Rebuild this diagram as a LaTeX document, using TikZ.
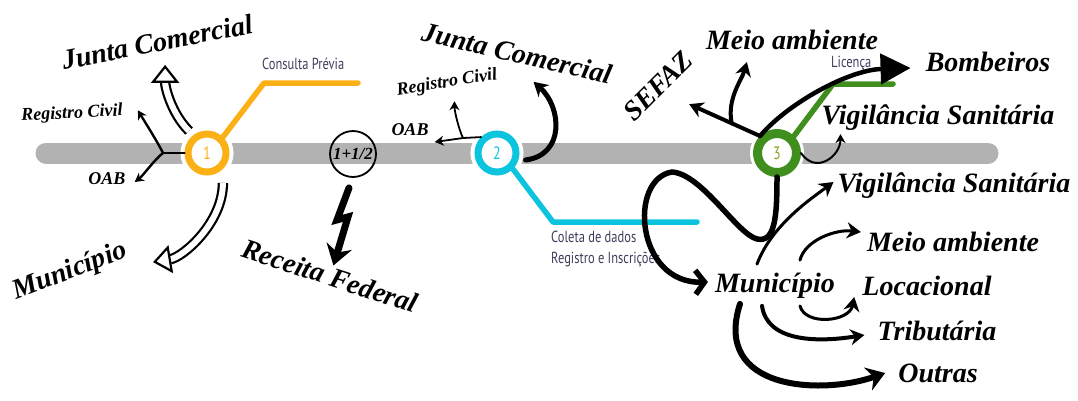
\documentclass[tikz,border=0pt]{standalone}
\usepackage{fontspec}
\newfontfamily\notefont[FakeStretch=0.78]{PT Sans}
\newfontfamily\handfont{Liberation Serif}
\usetikzlibrary{arrows.meta,positioning,calc}
\definecolor{amber}{HTML}{FBB016}
\definecolor{aqua}{HTML}{0CC4DE}
\definecolor{leaf}{HTML}{3F8E1E}
\definecolor{railgray}{HTML}{B2B2B2}
\definecolor{notegray}{HTML}{3E3E5C}
\tikzset{rail/.style={draw=railgray,line width=21pt,line cap=round}}
\tikzset{stop/.style={circle,draw,fill=white,line width=7pt,minimum size=38pt,inner sep=0pt,font=\notefont\fontsize{18}{18}\selectfont,preaction={draw=white,line width=15pt}}}
\tikzset{halfstop/.style={circle,draw,line width=1.8pt,minimum size=46pt,inner sep=0pt,font=\handfont\bfseries\itshape\fontsize{17}{17}\selectfont}}
\tikzset{leg/.style={draw,line width=5.5pt,line cap=round,line join=round}}
\tikzset{note/.style={font=\notefont\fontsize{16}{21}\selectfont,text=notegray,align=left,inner sep=0pt}}
\tikzset{hand/.style={font=\handfont\bfseries\itshape\fontsize{28}{28}\selectfont,inner sep=1pt}}
\tikzset{handsmall/.style={font=\handfont\bfseries\itshape\fontsize{18}{18}\selectfont,inner sep=1pt}}
\tikzset{thinline/.style={draw,line width=2.4pt,line cap=round}}
\tikzset{thinarrow/.style={draw,line width=2.4pt,line cap=round,-{Stealth[length=9pt,width=10pt]}}}
\tikzset{arrow/.style={draw,line width=4pt,line cap=round,-{Stealth[length=14pt,width=16pt]}}}
\tikzset{barb/.style={draw,line width=5.5pt,line cap=round,-{Straight Barb[length=9pt,width=24pt]}}}
\tikzset{hollow/.style={draw,line width=2.2pt,double=white,double distance=6pt,-{Triangle[open,fill=white,length=18pt,width=28pt,line width=2.2pt]}}}

\begin{document}
\begin{tikzpicture}[x=1pt,y=-1pt]
  \useasboundingbox (0,0) rectangle (1078,400);
  \coordinate (r0) at (46,153);
  \coordinate (r1) at (988,153);
  \path[rail] (r0) -- (r1);

  \node[stop,draw=amber,text=amber] (c1) at (207,153) {1};
  \node[halfstop] (ch) at (353,154) {1+1/2};
  \node[stop,draw=aqua,text=aqua] (c2) at (497,153) {2};
  \node[stop,draw=leaf,text=leaf!55!amber,line width=9pt,minimum size=39pt] (c3) at (777,153) {3};

  % legs and their notes
  \coordinate (k1) at (264,83);
  \coordinate (e1) at (358,83);
  \coordinate (k2) at (553,222);
  \coordinate (e2) at (697,222);
  \coordinate (k3) at (833,84);
  \coordinate (e3) at (893,84);
  \path[leg,draw=amber] (c1.north east) -- (k1) -- (e1);
  \path[leg,draw=aqua] (c2.south east) -- (k2) -- (e2);
  \path[leg,draw=leaf] (c3.north east) -- (k3) -- (e3);
  \node[note,above right=13pt and -2pt of k1] (n1) {Consulta Prévia};
  \node[note,below right=9pt and -2pt of k2] (n2) {Coleta de dados\\Registro e Inscrições};
  \node[note,above right=13pt and -2pt of k3] (n3) {Licença};

  % labels
  \node[hand,rotate=11] (jc1) at (157,42) {Junta Comercial};
  \node[handsmall,rotate=3] (rc1) at (72,114) {Registro Civil};
  \node[handsmall] (oab1) at (107,179) {OAB};
  \node[hand,rotate=21] (mun1) at (70,272) {Município};
  \node[hand,rotate=-18] (rf) at (330,276) {Receita Federal};
  \node[hand,rotate=-13] (jc2) at (517,53) {Junta Comercial};
  \node[handsmall,rotate=9] (rc2) at (447,83) {Registro Civil};
  \node[handsmall] (oab2) at (410,130) {OAB};
  \node[hand,rotate=45] (sefaz) at (658,86) {SEFAZ};
  \node[hand] (ma1) at (792,40) {Meio ambiente};
  \node[hand] (bomb) at (988,62) {Bombeiros};
  \node[hand] (vs1) at (938,118) {Vigilância Sanitária};
  \node[hand] (vs2) at (954,186) {Vigilância Sanitária};
  \node[hand] (ma2) at (953,242) {Meio ambiente};
  \node[hand] (mun2) at (775,286) {Município};
  \node[hand] (loc) at (927,286) {Locacional};
  \node[hand] (trib) at (937,331) {Tributária};
  \node[hand] (outras) at (938,373) {Outras};

  % stop 1
  \coordinate (f1) at (163,153);
  \path[thinline] (c1.west) -- (f1);
  \path[thinarrow] (f1) .. controls +(-6,-12) and +(6,10) .. ($(rc1.east)+(14,-1)$);
  \path[thinarrow] (f1) .. controls +(-8,6) and +(8,-6) .. ($(oab1.east)+(8,3)$);
  \path[hollow] ($(c1.north west)+(-2,-6)$) .. controls +(-18,-18) and +(0,22) .. ($(jc1.south)+(6,12)$);
  \path[hollow] ($(c1.south east)+(0,14)$) .. controls +(0,40) and +(30,-5) .. ($(mun1.east)+(26,12)$);

  % stop 1 1/2
  \path[arrow,line width=7pt,line join=miter,-{Stealth[length=20pt,width=26pt]}] ($(ch.south)+(-4,10)$) -- ++(-12,32) -- ++(11,-3) -- (rf.north);

  % stop 2
  \coordinate (f2) at (463,138);
  \path[thinline,line width=1.8pt] (c2.north west) -- (f2);
  \path[thinarrow,line width=1.8pt] (f2) .. controls +(-4,-8) and +(0,10) .. ($(rc2.south)+(6,9)$);
  \path[thinarrow,line width=1.8pt] (f2) -- ($(oab2.east)+(5,12)$);
  \path[arrow,line width=5pt] ($(c2.east)+(6,7)$) .. controls +(40,-5) and +(28,25) .. ($(jc2.south)+(19,18)$);

  % stop 3
  \coordinate (f3) at ($(c3.north west)!0.3!(sefaz.south)$);
  \path[arrow] (c3.north west) -- ($(c3.north west)!0.75!(sefaz.south)$);
  \path[arrow] (f3) .. controls +(-5,-25) and +(-5,18) .. ($(ma1.south west)+(42,11)$);
  \path[arrow,line width=4.5pt,-{Triangle[length=30pt,width=30pt]}] (c3.north west) .. controls +(28,-33) and +(-62,2) .. ($(bomb.west)+(-14,6)$);
  \path[thinarrow,line width=2pt] (c3.east) .. controls +(15,22) and +(0,22) .. ($(vs1.south west)+(20,2)$);
  \path[barb] (c3.south) .. controls +(0,40) and +(18,4) .. ++(-20,62)
      .. controls +(-20,-5) and +(30,2) .. ++(-85,-67)
      .. controls +(-44,7) and +(-72,2) .. ($(mun2.west)+(-6,-4)$);

  % municipio
  \path[arrow,line width=3pt] ($(mun2.north)+(-18,-8)$) .. controls +(15,-40) and +(-20,15) .. ($(vs2.west)+(-3,-4)$);
  \path[arrow,line width=3pt] ($(mun2.north)+(25,-12)$) .. controls +(5,-20) and +(-25,-3) .. ($(ma2.west)+(-5,-10)$);
  \path[arrow,line width=3pt] ($(mun2.south)+(25,6)$) .. controls +(5,20) and +(-5,25) .. ($(loc.south west)+(-7,0)$);
  \path[arrow,line width=4pt] ($(mun2.south)+(-13,6)$) .. controls +(5,35) and +(-50,8) .. ($(trib.west)+(-12,4)$);
  \path[arrow,line width=6pt,-{Stealth[length=18pt,width=24pt]}] ($(mun2.south)+(-35,4)$) .. controls +(-28,87) and +(-63,22) .. ($(outras.west)+(-12,0)$);
\end{tikzpicture}
\end{document}
